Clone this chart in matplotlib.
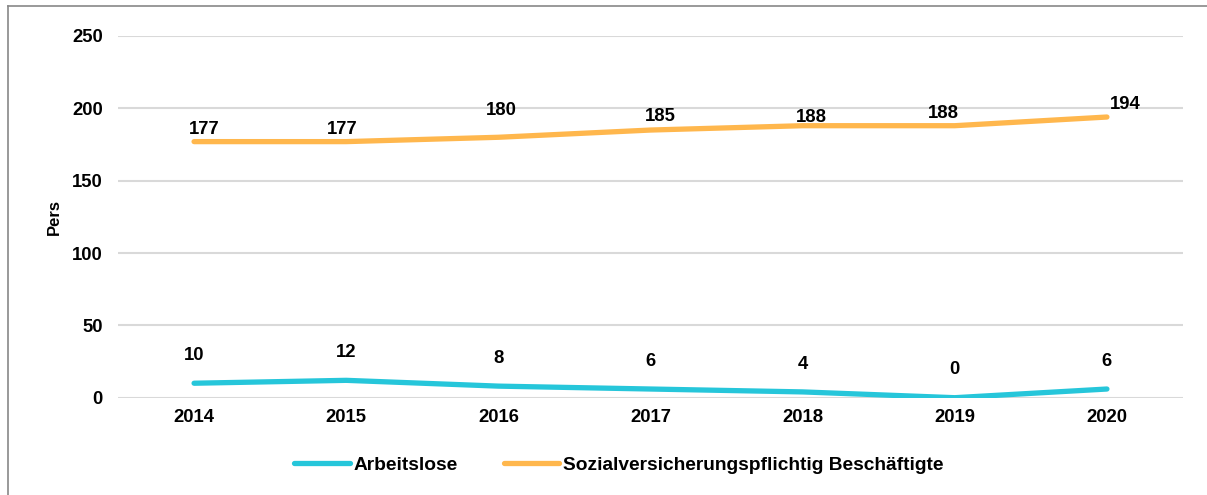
import matplotlib
matplotlib.use("Agg")
import matplotlib.pyplot as plt
from matplotlib.lines import Line2D

years = ["2014", "2015", "2016", "2017", "2018", "2019", "2020"]
arbeitslose = [10, 12, 8, 6, 4, 0, 6]
beschaeftigte = [177, 177, 180, 185, 188, 188, 194]
series_names = ["Arbeitslose", "Sozialversicherungspflichtig Beschäftigte"]
y_ticks = [0, 50, 100, 150, 200, 250]

# label offsets (points) – style only
off_a = [(0, 20)] * 7
off_b = [(7, 9), (-3, 9), (2, 19), (7, 10), (6, 6), (-8, 9), (13, 9)]

plt.rcParams['font.family'] = ['Liberation Sans', 'DejaVu Sans']
plt.rcParams['font.weight'] = 'bold'

FS = 13.3
W, H = 1207, 495
fig = plt.figure(figsize=(W / 100, H / 100), dpi=100)
ax = fig.add_axes([118 / W, 1 - 397.7 / H, (1183 - 118) / W, (397.7 - 36) / H])

c_a = "#26C6DA"
c_b = "#FFB74D"
x = list(range(len(years)))
ax.plot(x, arbeitslose, color=c_a, lw=3.8, solid_capstyle='round', solid_joinstyle='round', zorder=3)
ax.plot(x, beschaeftigte, color=c_b, lw=3.8, solid_capstyle='round', solid_joinstyle='round', zorder=3)

for xi, v, o in zip(x, arbeitslose, off_a):
    ax.annotate(str(v), (xi, v), xytext=o, textcoords='offset points',
                ha='center', va='center', fontsize=FS, fontweight='bold', color='black')
for xi, v, o in zip(x, beschaeftigte, off_b):
    ax.annotate(str(v), (xi, v), xytext=o, textcoords='offset points',
                ha='center', va='center', fontsize=FS, fontweight='bold', color='black')

ax.set_xlim(-0.5, len(years) - 0.5)
ax.set_ylim(0, 250)
ax.set_yticks(y_ticks)
ax.set_yticklabels([str(t) for t in y_ticks], fontsize=FS, fontweight='bold')
ax.set_xticks(x)
ax.set_xticklabels(years, fontsize=FS, fontweight='bold')
ax.tick_params(axis='both', length=0)
ax.tick_params(axis='y', pad=11)
ax.tick_params(axis='x', pad=8)
ax.grid(axis='y', color='#D9D9D9', lw=1.5)
ax.set_axisbelow(True)
for s in ax.spines.values():
    s.set_visible(False)

fig.text(54 / W, 1 - 217 / H, "Pers", rotation=90, ha='center', va='center',
         fontsize=12, fontweight='bold')

handles = [Line2D([0], [0], color=c_a, lw=3.8, solid_capstyle='round'),
           Line2D([0], [0], color=c_b, lw=3.8, solid_capstyle='round')]
leg = fig.legend(handles, series_names, loc='center', bbox_to_anchor=(619 / W, 1 - 465 / H),
                 ncol=2, frameon=False, prop={'size': 13.8, 'weight': 'bold'},
                 handlelength=2.9, handletextpad=0.2, columnspacing=2.4)

# outer border (top & left visible)
fig.add_artist(Line2D([8 / W, 8 / W], [0, 1 - 6 / H], color='#888888', lw=1.2, transform=fig.transFigure))
fig.add_artist(Line2D([8 / W, 1], [1 - 6 / H, 1 - 6 / H], color='#888888', lw=1.2, transform=fig.transFigure))

fig.savefig("out.png", dpi=100)
